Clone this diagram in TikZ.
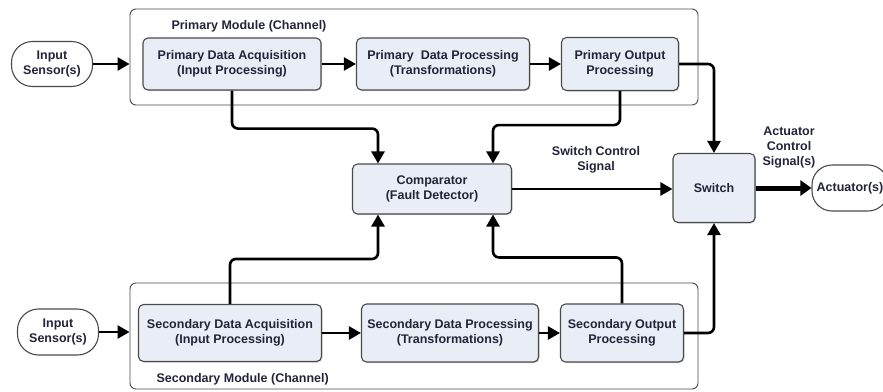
\documentclass[tikz,border=0pt]{standalone}
\usepackage{fontspec}
\setmainfont{Liberation Sans}
\usepackage{tikz}
\usetikzlibrary{arrows.meta}
\usetikzlibrary{shadows}

\definecolor{boxfill}{HTML}{E9EEF6}
\definecolor{boxline}{HTML}{4A4A4A}
\definecolor{txt}{HTML}{23233A}

\begin{document}
\begin{tikzpicture}[x=1pt,y=-1pt,
    block/.style={draw=boxline, fill=boxfill, line width=1.1pt, rounded corners=5pt, align=center, inner sep=0pt,
        font=\bfseries\fontsize{12.5}{15}\selectfont, text=txt,
        drop shadow={shadow xshift=1pt, shadow yshift=-1pt, opacity=0.35}},
    term/.style={draw=boxline, fill=white, line width=1.1pt, rounded corners=21pt, align=center, inner sep=0pt,
        font=\bfseries\fontsize{12.5}{15}\selectfont, text=txt},
    module/.style={draw=boxline, line width=0.9pt, rounded corners=6pt, inner sep=0pt},
    flow/.style={line width=2.6pt, rounded corners=6pt, -{Triangle[length=12pt,width=13pt]}},
    lbl/.style={font=\bfseries\fontsize{12.5}{15}\selectfont, text=txt, align=center}]
    \useasboundingbox (0,0) rectangle (883,391);

    % module frames
    \node[module, minimum width=568pt, minimum height=96pt] (pmod) at (414,57) {};
    \node[module, minimum width=568pt, minimum height=106pt] (smod) at (414,336) {};
    \node[lbl, anchor=west] (ptitle) at (168,26) {Primary Module (Channel)};
    \node[lbl, anchor=west] (stitle) at (153,379) {Secondary Module (Channel)};

    % primary channel
    \node[term, minimum width=81pt, minimum height=45pt] (ins1) at (52,64) {Input\\Sensor(s)};
    \node[block, minimum width=178pt, minimum height=52pt] (pda) at (232,64) {Primary Data Acquisition\\(Input Processing)};
    \node[block, minimum width=173pt, minimum height=52pt] (pdp) at (443,64) {Primary\ \ Data Processing\\(Transformations)};
    \node[block, minimum width=117pt, minimum height=53pt] (pop) at (620,64) {Primary Output\\Processing};

    % secondary channel
    \node[term, minimum width=81pt, minimum height=46pt] (ins2) at (58,332) {Input\\Sensor(s)};
    \node[block, minimum width=183pt, minimum height=57pt] (sda) at (230,333) {Secondary Data Acquisition\\(Input Processing)};
    \node[block, minimum width=177pt, minimum height=58pt] (sdp) at (450,333) {Secondary Data Processing\\(Transformations)};
    \node[block, minimum width=123pt, minimum height=58pt] (sop) at (622,333) {Secondary Output\\Processing};

    % middle
    \node[block, minimum width=159pt, minimum height=50pt] (cmp) at (432,189) {Comparator\\(Fault Detector)};
    \node[block, minimum width=82pt, minimum height=69pt] (sw) at (714,188) {Switch};
    \node[term, minimum width=76pt, minimum height=46pt, rounded corners=20pt] (act) at (850,188) {Actuator(s)};
    \node[lbl] (swlbl) at (596,160) {Switch Control\\Signal};
    \node[lbl] (actlbl) at (789,148) {Actuator\\Control\\Signal(s)};

    % connectors
    \draw[flow] (ins1) -- (ins1 -| pmod.west);
    \draw[flow] (pda) -- (pdp);
    \draw[flow] (pdp) -- (pop);
    \draw[flow] (ins2) -- (ins2 -| smod.west);
    \draw[flow] (sda) -- (sdp);
    \draw[flow] (sdp) -- (sop);

    \draw[flow] (pda.south) -- ++(0,38) -| ([xshift=-54pt]cmp.north);
    \draw[flow] (pop.south) -- ++(0,34) -| ([xshift=61pt]cmp.north);
    \draw[flow] (sda.north) -- ++(0,-45) -| ([xshift=-54pt]cmp.south);
    \draw[flow] (sop.north) -- ++(0,-46) -| ([xshift=61pt]cmp.south);

    \draw[flow] (pop.east) -| (sw.north);
    \draw[flow] (sop.east) -| (sw.south);
    \draw[flow] (cmp.east) -- (cmp.east -| sw.west);
    \draw[line width=5pt, -{Triangle[length=11pt,width=15pt]}] (sw.east) -- (act.west);
\end{tikzpicture}
\end{document}
